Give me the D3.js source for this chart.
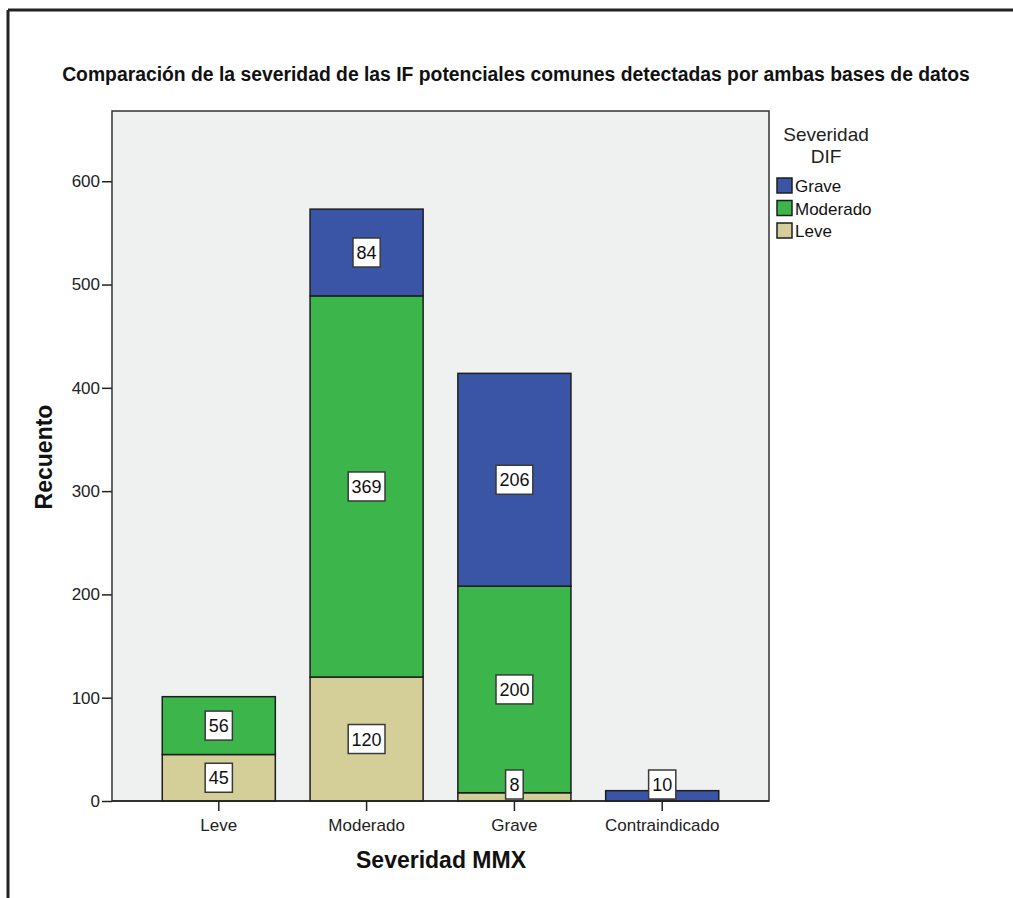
<!DOCTYPE html>
<html>
<head>
<meta charset="utf-8">
<script src="https://cdn.jsdelivr.net/npm/d3@7"></script>
<style>
  html, body { margin: 0; padding: 0; background: #ffffff; }
  svg { display: block; font-family: "Liberation Sans", Arial, sans-serif; }
</style>
</head>
<body>
<svg id="chart" width="1013" height="898"></svg>
<script>
// Categories on the x axis (severity according to MMX)
const categories = ["Leve", "Moderado", "Grave", "Contraindicado"];
// Stack series (severity according to DIF), bottom to top
const seriesNames = ["Leve", "Moderado", "Grave"];
const leveValues = [45, 120, 8, 0];
const moderadoValues = [56, 369, 200, 0];
const graveValues = [0, 84, 206, 10];
const yTicks = [0, 100, 200, 300, 400, 500, 600];

const colors = { Leve: "#d4cf98", Moderado: "#3cb54b", Grave: "#3b55a6" };

const rows = categories.map((c, i) => ({
  cat: c, Leve: leveValues[i], Moderado: moderadoValues[i], Grave: graveValues[i]
}));

const svg = d3.select("#chart");

// Outer frame (top and left edges)
svg.append("line").attr("x1", 8).attr("y1", 10).attr("x2", 1013).attr("y2", 10)
  .attr("stroke", "#222").attr("stroke-width", 3);
svg.append("line").attr("x1", 8).attr("y1", 10).attr("x2", 8).attr("y2", 898)
  .attr("stroke", "#222").attr("stroke-width", 3);

const plot = { left: 112, right: 769, top: 111, bottom: 801 };

const x = d3.scaleBand().domain(categories)
  .range([plot.left, plot.right])
  .paddingInner(0.235).paddingOuter(0.34);
const y = d3.scaleLinear().domain([0, 668]).range([plot.bottom, plot.top]);

// Plot background
svg.append("rect").attr("x", plot.left).attr("y", plot.top)
  .attr("width", plot.right - plot.left).attr("height", plot.bottom - plot.top)
  .attr("fill", "#eff0f0").attr("stroke", "#333").attr("stroke-width", 1.5);

// Stacked bars
const stack = d3.stack().keys(seriesNames)(rows);
const layers = svg.append("g").selectAll("g").data(stack).join("g")
  .attr("fill", d => colors[d.key]);
layers.selectAll("rect").data(d => d.filter(s => s[1] - s[0] > 0)).join("rect")
  .attr("x", d => x(d.data.cat))
  .attr("width", x.bandwidth())
  .attr("y", d => y(d[1]))
  .attr("height", d => y(d[0]) - y(d[1]))
  .attr("stroke", "#1e1e1e").attr("stroke-width", 1.5);

// Value labels in white boxes
const labelG = svg.append("g");
const boxH = 29;
stack.forEach(layer => {
  layer.forEach(s => {
    const v = s[1] - s[0];
    if (v <= 0) return;
    const cx = x(s.data.cat) + x.bandwidth() / 2;
    let cy = (y(s[0]) + y(s[1])) / 2;
    cy = Math.min(cy, plot.bottom - 2 - boxH / 2);
    const txt = String(v);
    const w = txt.length * 9.6 + 8;
    labelG.append("rect")
      .attr("x", cx - w / 2).attr("y", cy - boxH / 2)
      .attr("width", w).attr("height", boxH)
      .attr("fill", "#ffffff").attr("stroke", "#3a3a3a").attr("stroke-width", 1.5);
    labelG.append("text")
      .attr("x", cx).attr("y", cy + 6.5)
      .attr("text-anchor", "middle")
      .attr("font-size", 18).attr("fill", "#111")
      .text(txt);
  });
});

// Y axis
const yAxis = svg.append("g").attr("transform", `translate(${plot.left},0)`)
  .call(d3.axisLeft(y).tickValues(yTicks).tickSize(10).tickPadding(2).tickFormat(d3.format("d")));
yAxis.select(".domain").remove();
yAxis.selectAll(".tick line").attr("stroke", "#222").attr("stroke-width", 1.5);
yAxis.selectAll(".tick text").attr("font-size", 17).attr("fill", "#222")
  .attr("font-family", "Liberation Sans, Arial, sans-serif");

// X axis
const xAxis = svg.append("g").attr("transform", `translate(0,${plot.bottom})`)
  .call(d3.axisBottom(x).tickSize(10).tickPadding(8));
xAxis.select(".domain").remove();
xAxis.selectAll(".tick line").attr("stroke", "#222").attr("stroke-width", 1.5);
xAxis.selectAll(".tick text").attr("font-size", 17).attr("fill", "#222")
  .attr("font-family", "Liberation Sans, Arial, sans-serif");

// Redraw baseline on top of bars
svg.append("line").attr("x1", plot.left).attr("x2", plot.right)
  .attr("y1", plot.bottom).attr("y2", plot.bottom)
  .attr("stroke", "#222").attr("stroke-width", 1.5);

// Title, fitted to its width
const title = svg.append("text")
  .attr("x", 516).attr("y", 81)
  .attr("text-anchor", "middle")
  .attr("font-weight", "bold").attr("font-size", 17).attr("fill", "#111")
  .text("Comparación de la severidad de las IF potenciales comunes detectadas por ambas bases de datos");
const tw = title.node().getComputedTextLength();
title.attr("font-size", 17 * 908 / tw);

// Axis titles
svg.append("text")
  .attr("transform", "translate(52,457) rotate(-90)")
  .attr("text-anchor", "middle")
  .attr("font-weight", "bold").attr("font-size", 23).attr("fill", "#111")
  .text("Recuento");
svg.append("text")
  .attr("x", 441).attr("y", 868)
  .attr("text-anchor", "middle")
  .attr("font-weight", "bold").attr("font-size", 23).attr("fill", "#111")
  .text("Severidad MMX");

// Legend
const legend = svg.append("g");
legend.append("text").attr("x", 826).attr("y", 141).attr("text-anchor", "middle")
  .attr("font-size", 19).attr("fill", "#222").text("Severidad");
legend.append("text").attr("x", 826).attr("y", 163).attr("text-anchor", "middle")
  .attr("font-size", 19).attr("fill", "#222").text("DIF");
const legendOrder = ["Grave", "Moderado", "Leve"];
legendOrder.forEach((k, i) => {
  const yy = 178 + i * 22.5;
  legend.append("rect").attr("x", 777).attr("y", yy)
    .attr("width", 15).attr("height", 15)
    .attr("fill", colors[k]).attr("stroke", "#1e1e1e").attr("stroke-width", 1.5);
  legend.append("text").attr("x", 795).attr("y", yy + 14)
    .attr("font-size", 17).attr("fill", "#111").text(k);
});
</script>
</body>
</html>
